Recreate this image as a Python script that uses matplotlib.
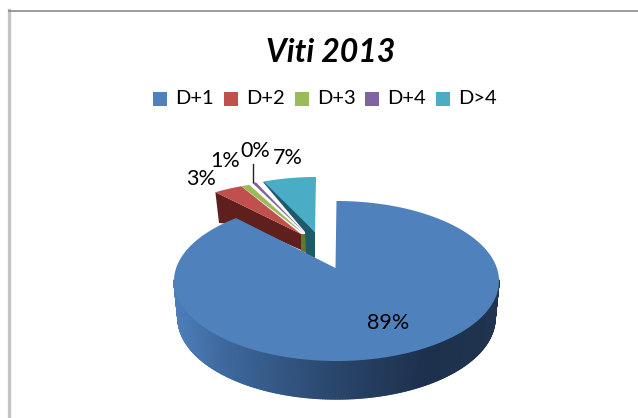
import numpy as np
import matplotlib
matplotlib.use("Agg")
import matplotlib.pyplot as plt
from matplotlib.collections import PolyCollection
from matplotlib.patches import Polygon, Rectangle

plt.rcParams['font.family'] = ['Lato', 'DejaVu Sans']

title = "Viti 2013"
categories = ["D+1", "D+2", "D+3", "D+4", "D>4"]
values = [89.4, 3.1, 0.9, 0.4, 6.2]
labels = ["89%", "3%", "1%", "0%", "7%"]
colors = ["#4F81BD", "#C0504D", "#9BBB59", "#8064A2", "#4BACC6"]
sides = ["#3A6090", "#5E1F1D", "#5F7A2B", "#4A3768", "#1F5A6C"]

W, H = 638, 418
fig = plt.figure(figsize=(W / 100, H / 100), dpi=100)
ax = fig.add_axes([0, 0, 1, 1])
ax.set_xlim(0, W)
ax.set_ylim(H, 0)
ax.axis("off")

# chart frame
ax.plot([9, 9], [10, 418], color="#C4C4C4", lw=2.4, zorder=0)
ax.plot([8, 638], [10.5, 10.5], color="#8C8C8C", lw=1.2, solid_capstyle="butt", zorder=1)

# ellipse centre, radii and apex for each (exploded) slice, in pixels
geom = [
    dict(c=(336.5, 281), r=(162.5, 80), apex=(335.5, 268)),
    dict(c=(313, 237), r=(158, 57), apex=(301, 234)),
    dict(c=(313, 237), r=(158, 57), apex=(304, 234)),
    dict(c=(316, 236), r=(158, 58), apex=(305, 233)),
    dict(c=(316, 238), r=(138, 61), apex=(315, 232)),
]
depth = 37

edges = np.concatenate([[0], np.cumsum(values)]) / np.sum(values) * 2 * np.pi


def arc(i, n=240):
    t = np.linspace(edges[i], edges[i + 1], n)
    g = geom[i]
    return np.c_[g["c"][0] + g["r"][0] * np.sin(t), g["c"][1] - g["r"][1] * np.cos(t)]


# small slices: dark sides first
red = arc(1, 40)
ax.add_patch(Polygon([red[0], (219, 223), (245, 225), (301, 250), (301, 234)],
                     fc=sides[1], ec="none", zorder=2))
ax.add_patch(Polygon([(301, 234), (306, 234), (306, 253), (301, 251)], fc=sides[2], ec="none", zorder=2))
ax.add_patch(Polygon([(263, 182), (305, 232), (306, 254), (315, 258), (315, 232), (268, 182)],
                     fc=sides[4], ec="none", zorder=2))
for i in range(1, 5):
    ax.add_patch(Polygon(np.vstack([arc(i, 40), geom[i]["apex"]]), fc=colors[i], ec="none", zorder=3))

# main slice wall with horizontal gradient
g = geom[0]
t = np.linspace(np.pi / 2, 3 * np.pi / 2, 300)
st, ct = np.sin(t), np.cos(t)
xs = g["c"][0] + g["r"][0] * st
ys = g["c"][1] - g["r"][1] * ct
xb = g["c"][0] + (g["r"][0] - 4) * st
yb = g["c"][1] + depth - (g["r"][1] + 1) * ct
order = np.argsort(xs)
xs, ys, xb, yb = xs[order], ys[order], xb[order], yb[order]
quads = [[(xs[k], ys[k] - 1), (xs[k + 1], ys[k + 1] - 1),
          (xb[k + 1], yb[k + 1]), (xb[k], yb[k])] for k in range(len(xs) - 1)]
stops = np.array([[78, 126, 186], [62, 104, 156], [42, 72, 110], [29, 48, 76], [32, 52, 80]]) / 255
pos = np.array([175, 225, 330, 430, 499])
mid = (xs[:-1] + xs[1:]) / 2
cols = np.c_[[np.interp(mid, pos, stops[:, j]) for j in range(3)]].T
ax.add_collection(PolyCollection(quads, facecolors=cols, edgecolors=cols, linewidths=1.0, zorder=4))

# main slice top
ax.add_patch(Polygon(np.vstack([arc(0), g["apex"]]), fc=colors[0], ec="none", zorder=5))

# leader line of the 0% label
ax.plot([253, 253], [164, 182], color="#222222", lw=1, zorder=6)

# texts
ax.text(331, 52, title, ha="center", va="center", fontsize=23, fontweight="bold", style="italic", color="black")

lx = [153, 224, 295, 365, 436]
for x, c, n in zip(lx, colors, categories):
    ax.add_patch(Rectangle((x, 92), 14, 14, fc=c, ec="none"))
    ax.text(x + 22, 99, n, ha="left", va="center", fontsize=14.5, color="black")

lab_pos = [(201, 179), (225, 161), (255, 151), (288, 158)]
ax.text(388, 323, labels[0], ha="center", va="center", fontsize=15.5, color="black", zorder=7)
for (x, y), s in zip(lab_pos, labels[1:]):
    ax.text(x, y, s, ha="center", va="center", fontsize=15.5, color="black", zorder=7)

fig.savefig("out.png", dpi=100)
